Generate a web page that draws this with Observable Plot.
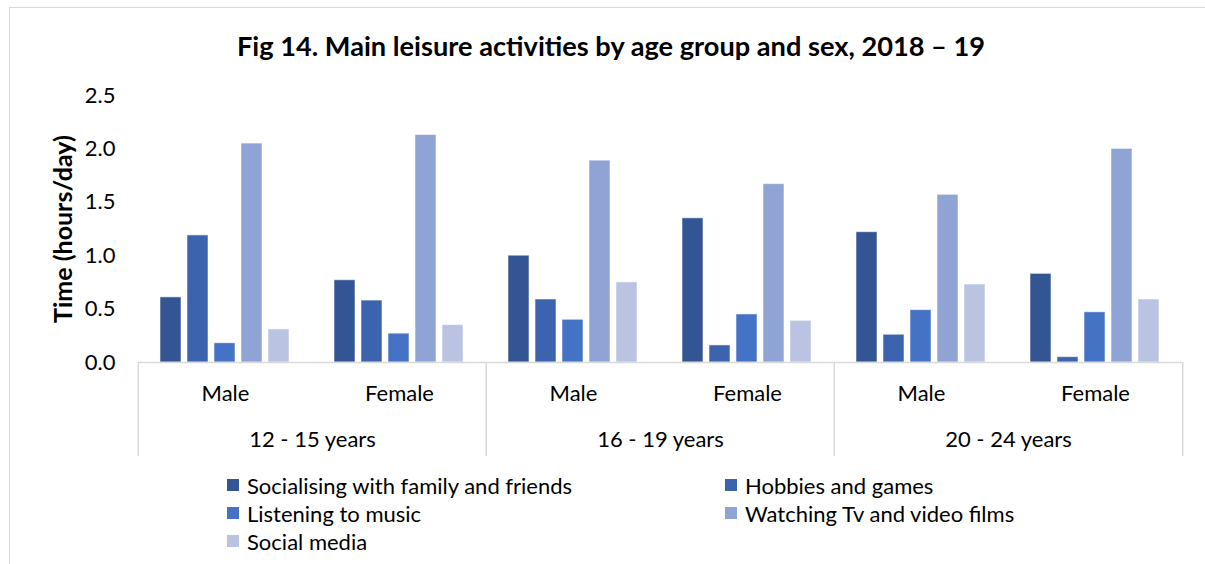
<!DOCTYPE html>
<html>
<head>
<meta charset="utf-8">
<script src="https://cdn.jsdelivr.net/npm/d3@7"></script>
<script src="https://cdn.jsdelivr.net/npm/@observablehq/plot@0.6"></script>
<style>
  html, body { margin: 0; padding: 0; background: #fff; overflow: hidden; }
  body { width: 1205px; height: 564px; position: relative; font-family: Lato, "Open Sans", sans-serif; color: #000; }
  #border { position: absolute; left: 9px; top: 7px; width: 1400px; height: 700px; border-left: 1px solid #d9d9d9; border-top: 1px solid #d9d9d9; }
  #title { position: absolute; left: 0; top: 31px; width: 1222px; text-align: center; font-weight: bold; font-size: 27.2px; line-height: 30px; }
  #chart { position: absolute; left: 0; top: 70px; }
  #legend { position: absolute; left: 227px; top: 471px; display: grid; grid-template-columns: 498px 440px; grid-auto-rows: 28px; font-size: 22px; }
  .item { display: flex; align-items: center; white-space: nowrap; }
  .sw { width: 12px; height: 12px; margin-right: 8px; flex: none; }
</style>
</head>
<body>
<div id="border"></div>
<div id="title">Fig 14. Main leisure activities by age group and sex, 2018 – 19</div>
<div id="chart"></div>
<div id="legend"></div>
<script>
const ageGroups = ["12 - 15 years", "16 - 19 years", "20 - 24 years"];
const sexes = ["Male", "Female"];
const activities = [
  "Socialising with family and friends",
  "Hobbies and games",
  "Listening to music",
  "Watching Tv and video films",
  "Social media"
];
// order: 12-15 M, 12-15 F, 16-19 M, 16-19 F, 20-24 M, 20-24 F
const socialising = [0.61, 0.77, 1.00, 1.35, 1.22, 0.83];
const hobbies     = [1.19, 0.58, 0.59, 0.16, 0.26, 0.05];
const music       = [0.18, 0.27, 0.40, 0.45, 0.49, 0.47];
const tvFilms     = [2.05, 2.13, 1.89, 1.67, 1.57, 2.00];
const socialMedia = [0.31, 0.35, 0.75, 0.39, 0.73, 0.59];
const yTicks = [0, 0.5, 1.0, 1.5, 2.0, 2.5];
const colors = ["#335593", "#3c64ae", "#4472c4", "#8fa4d5", "#bac4e2"];

const series = [socialising, hobbies, music, tvFilms, socialMedia];
const keys = [];
ageGroups.forEach(a => sexes.forEach(s => keys.push(a + "|" + s)));
const rows = [];
activities.forEach((act, j) => {
  keys.forEach((k, i) => rows.push({key: k, activity: act, value: series[j][i]}));
});

const W = 1205, H = 390, mL = 136, mR = 22, mT = 25, mB = 98;
const fw = (W - mL - mR) / keys.length;
const lineColor = "#d9d9d9";

const chart = Plot.plot({
  width: W, height: H,
  marginLeft: mL, marginRight: mR, marginTop: mT, marginBottom: mB,
  style: {fontFamily: "Lato, 'Open Sans', sans-serif", fontSize: "22px", color: "#000", background: "transparent"},
  fx: {domain: keys, padding: 0},
  x: {domain: activities, paddingInner: 0.22, paddingOuter: 0.82, axis: null},
  y: {domain: [0, 2.5]},
  color: {domain: activities, range: colors},
  marks: [
    Plot.barY(rows, {fx: "key", x: "activity", y: "value", fill: "activity", stroke: "#ffffff", strokeOpacity: 0.55, strokeWidth: 1}),
    Plot.ruleY([0], {stroke: lineColor, strokeWidth: 1.5}),
    Plot.ruleX(ageGroups, {fx: a => a + "|Male", x: null, y1: 0, dx: -fw / 2, insetBottom: -94, stroke: lineColor, strokeWidth: 1.5}),
    Plot.ruleX([keys[keys.length - 1]], {fx: d => d, x: null, y1: 0, dx: fw / 2, insetBottom: -94, stroke: lineColor, strokeWidth: 1.5}),
    Plot.axisY({ticks: yTicks, tickFormat: d3.format(".1f"), tickSize: 0, tickPadding: 23, label: null, fontSize: 22}),
    Plot.axisFx({anchor: "bottom", tickSize: 0, tickPadding: 23, label: null, tickFormat: k => k.split("|")[1], fontSize: 22}),
    Plot.text(ageGroups, {fx: a => a + "|Male", text: d => d, frameAnchor: "bottom-right", textAnchor: "middle", lineAnchor: "top", dy: 69, fontSize: 22}),
    Plot.text(["Time (hours/day)"], {fx: [keys[0]], text: d => d, frameAnchor: "left", textAnchor: "middle", rotate: -90, dx: -75, fontWeight: "bold", fontSize: 25})
  ]
});
document.getElementById("chart").appendChild(chart);

const legend = document.getElementById("legend");
activities.forEach((act, i) => {
  const item = document.createElement("div");
  item.className = "item";
  const sw = document.createElement("span");
  sw.className = "sw";
  sw.style.background = colors[i];
  const label = document.createElement("span");
  label.textContent = act;
  item.appendChild(sw);
  item.appendChild(label);
  legend.appendChild(item);
});
</script>
</body>
</html>
